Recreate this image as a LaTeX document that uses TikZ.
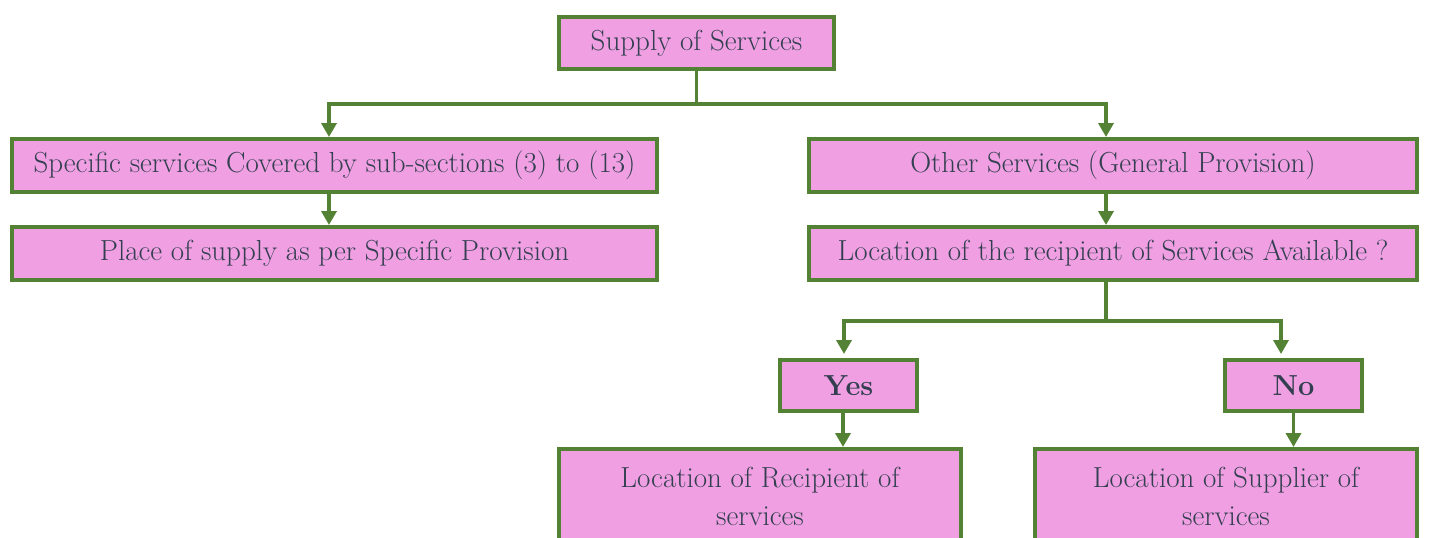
\documentclass[tikz,border=0pt]{standalone}
\usetikzlibrary{arrows.meta}
\definecolor{boxfill}{HTML}{F0A0E2}
\definecolor{boxline}{HTML}{548235}
\definecolor{txt}{HTML}{333F50}
\begin{document}
\begin{tikzpicture}[x=1pt,y=-1pt,
  box/.style={draw=boxline, line width=4pt, fill=boxfill, text=txt, inner sep=0pt,
    font=\fontsize{29}{38}\selectfont, align=center},
  conn/.style={draw=boxline, line width=3.5pt},
  arr/.style={conn, -{Triangle[width=15pt,length=14pt]}}]
\useasboundingbox (0,0) rectangle (1433,538);
\clip (0,0) rectangle (1433,538);
\node[box, minimum width=275pt, minimum height=52pt] (top) at (696.5,43) {Supply of Services};
\node[box, minimum width=645pt, minimum height=53pt] (left1) at (334.5,165.5) {Specific services Covered by sub-sections (3) to (13)};
\node[box, minimum width=645pt, minimum height=53pt] (left2) at (334.5,253.5) {Place of supply as per Specific Provision};
\node[box, minimum width=608pt, minimum height=53pt] (right1) at (1113,165.5) {Other Services (General Provision)};
\node[box, minimum width=608pt, minimum height=53pt] (right2) at (1113,253.5) {Location of the recipient of Services Available ?};
\node[box, minimum width=137pt, minimum height=51pt, font=\fontsize{29}{38}\selectfont\bfseries] (yes) at (848.5,385.5) {Yes};
\node[box, minimum width=137pt, minimum height=51pt, font=\fontsize{29}{38}\selectfont\bfseries] (no) at (1293.5,385.5) {No};
\node[box, minimum width=402pt, minimum height=94pt] (rec) at (760,496) {Location of Recipient of\\services};
\node[box, minimum width=382pt, minimum height=94pt] (sup) at (1226,496) {Location of Supplier of\\services};
\coordinate (aL) at (329,104);
\coordinate (aR) at (1106,104);
\coordinate (bY) at (844,321);
\coordinate (bN) at (1281,321);
\coordinate (cY) at (843,0);
\draw[arr] (top.south) -- (top.south |- aL) -| (left1.north -| aL);
\draw[arr] (top.south |- aL) -| (right1.north -| aR);
\draw[arr] (left1.south -| aL) -- (left2.north -| aL);
\draw[arr] (right1.south -| aR) -- (right2.north -| aR);
\draw[arr, shorten >=4pt] (right2.south -| aR) -- (aR |- bY) -| (yes.north -| bY);
\draw[arr, shorten >=4pt] (aR |- bY) -| (no.north -| bN);
\draw[arr] (yes.south -| cY) -- (rec.north -| cY);
\draw[arr] (no.south) -- (sup.north -| no.south);
\end{tikzpicture}
\end{document}
